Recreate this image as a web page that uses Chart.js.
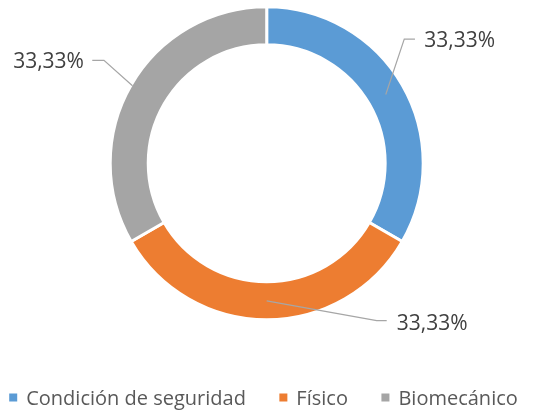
<!DOCTYPE html>
<html>
<head>
<meta charset="utf-8">
<script src="https://cdn.jsdelivr.net/npm/chart.js@4/dist/chart.umd.min.js"></script>
<style>
html,body{margin:0;padding:0;background:#fff;}
canvas{display:block;}
</style>
</head>
<body>
<canvas id="c" width="537" height="410"></canvas>
<script>
const categories = ['Condición de seguridad', 'Físico', 'Biomecánico'];
const values = [33.33, 33.33, 33.33];
const valueLabels = ['33,33%', '33,33%', '33,33%'];
const colors = ['#5B9BD5', '#ED7D31', '#A5A5A5'];

// leader line / label placement relative to each slice's anchor point
const labelLayout = [
  {r: 'mid',   elbow: [18.5, -55.5], end: [29.2, -55.5], text: [38.5, -47.9], align: 'left'},
  {r: 'mid',   elbow: [110, 19.9],   end: [120, 19.9],   text: [130, 29.2],   align: 'left'},
  {r: 'outer', elbow: [-28.5, -25.5], end: [-40.2, -25.5], text: [-48.5, -17.5], align: 'right'}
];

const FONT = '"Open Sans", "Liberation Sans", sans-serif';

const labelPlugin = {
  id: 'leaderLabels',
  afterDatasetsDraw(chart) {
    const ctx = chart.ctx;
    const meta = chart.getDatasetMeta(0);
    meta.data.forEach((arc, i) => {
      const p = arc.getProps(['x','y','startAngle','endAngle','innerRadius','outerRadius'], true);
      const a = (p.startAngle + p.endAngle) / 2;
      const rr = labelLayout[i].r === 'mid' ? (p.innerRadius + p.outerRadius) / 2 : p.outerRadius - 1.5;
      const ax = p.x + Math.cos(a) * rr;
      const ay = p.y + Math.sin(a) * rr;
      const L = labelLayout[i];
      ctx.save();
      ctx.strokeStyle = '#A6A6A6';
      ctx.lineWidth = 1.2;
      ctx.beginPath();
      ctx.moveTo(ax, ay);
      ctx.lineTo(ax + L.elbow[0], ay + L.elbow[1]);
      ctx.lineTo(ax + L.end[0], ay + L.end[1]);
      ctx.stroke();
      ctx.fillStyle = '#404040';
      ctx.font = '21px ' + FONT;
      ctx.textAlign = L.align;
      ctx.textBaseline = 'alphabetic';
      ctx.fillText(valueLabels[i], ax + L.text[0], ay + L.text[1]);
      ctx.restore();
    });
  }
};

const legendPlugin = {
  id: 'bottomLegend',
  afterDraw(chart) {
    const ctx = chart.ctx;
    ctx.save();
    ctx.font = '20px ' + FONT;
    const box = 8, gapBoxText = 9, gapItems = 33.5;
    const widths = categories.map(t => ctx.measureText(t).width);
    let total = 0;
    widths.forEach((w, i) => { total += box + gapBoxText + w + (i < widths.length - 1 ? gapItems : 0); });
    let x = 263.5 - total / 2;
    const baseline = 405;
    categories.forEach((t, i) => {
      ctx.fillStyle = colors[i];
      ctx.fillRect(x, 393.5, box, box);
      x += box + gapBoxText;
      ctx.fillStyle = '#595959';
      ctx.textAlign = 'left';
      ctx.textBaseline = 'alphabetic';
      ctx.fillText(t, x, baseline);
      x += widths[i] + gapItems;
    });
    ctx.restore();
  }
};

new Chart(document.getElementById('c'), {
  type: 'doughnut',
  data: {
    labels: categories,
    datasets: [{
      data: values,
      backgroundColor: colors,
      borderColor: '#FFFFFF',
      borderWidth: 3,
      hoverOffset: 0,
      radius: 156.5,
      cutout: '75.7%'
    }]
  },
  options: {
    responsive: false,
    animation: false,
    layout: {padding: {left: 0, right: 3.6, top: 0, bottom: 83.4}},
    plugins: {
      legend: {display: false},
      tooltip: {enabled: false}
    }
  },
  plugins: [labelPlugin, legendPlugin]
});
</script>
</body>
</html>
